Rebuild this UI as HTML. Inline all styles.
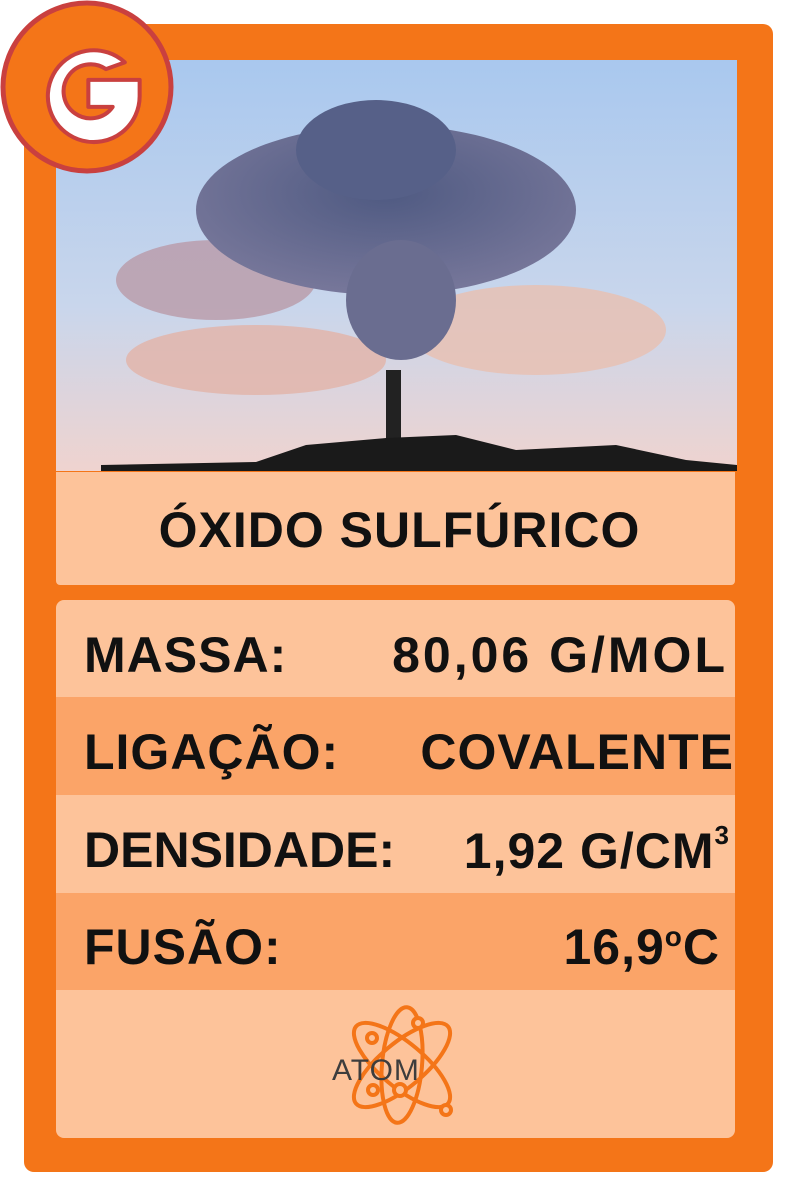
<!DOCTYPE html>
<html><head><meta charset="utf-8"><style>
body{margin:0;width:800px;height:1200px;background:#fff;position:relative;overflow:hidden;font-family:"Liberation Sans",sans-serif}
.abs{position:absolute}
.t{font-weight:bold;color:#111;font-size:50px;line-height:1;letter-spacing:1px}
</style></head><body>
<div class="abs" style="left:24px;top:24px;width:749px;height:1148px;background:#f47518;border-radius:10px"></div>
<svg class="abs" style="left:56px;top:60px" width="681" height="411">
<defs><linearGradient id="sky" x1="0" y1="0" x2="0" y2="1"><stop offset="0" stop-color="#a9c8ee"/><stop offset="0.6" stop-color="#c9d6ec"/><stop offset="1" stop-color="#efd3cf"/></linearGradient>
<radialGradient id="cl" cx="0.5" cy="0.4" r="0.6"><stop offset="0" stop-color="#4f5a82"/><stop offset="1" stop-color="#77779a"/></radialGradient></defs>
<rect width="681" height="411" fill="url(#sky)"/>
<ellipse cx="200" cy="300" rx="130" ry="35" fill="#e2b3a8" opacity="0.8"/>
<ellipse cx="480" cy="270" rx="130" ry="45" fill="#e8bfb0" opacity="0.8"/>
<ellipse cx="160" cy="220" rx="100" ry="40" fill="#b99aa8" opacity="0.8"/>
<ellipse cx="330" cy="150" rx="190" ry="85" fill="url(#cl)"/>
<ellipse cx="320" cy="90" rx="80" ry="50" fill="#566088"/>
<ellipse cx="345" cy="240" rx="55" ry="60" fill="#6a6d90"/>
<rect x="330" y="310" width="15" height="70" fill="#222"/>
<path d="M45 411 L45 405 L200 402 L250 385 L330 378 L400 375 L460 390 L560 385 L630 400 L681 405 L681 411Z" fill="#1a1a1a"/>
</svg>
<svg class="abs" style="left:0;top:0" width="176" height="176">
<circle cx="87" cy="87" r="84" fill="#f47518" stroke="#c9403f" stroke-width="5"/>
<g transform="translate(87 88) scale(1.35) translate(-88 -87)">
<path d="M116 68 A34 34 0 1 0 127 93 L127 81 L89 81 L89 101 L107 101 A20 20 0 1 1 102 73 Z" fill="#fff" stroke="#c9403f" stroke-width="3" stroke-linejoin="round"/>
</g>
</svg>
<div class="abs" style="left:56px;top:472px;width:679px;height:113px;background:#fdc39a;border-radius:0 0 4px 4px"></div>
<div class="abs t" style="left:60px;width:679px;top:505px;text-align:center">ÓXIDO SULFÚRICO</div>
<div class="abs" style="left:56px;top:600px;width:679px;height:538px;background:#fdc39a;border-radius:8px;overflow:hidden">
<div style="position:absolute;top:97px;width:100%;height:98px;background:#fba468"></div>
<div style="position:absolute;top:293px;width:100%;height:97px;background:#fba468"></div>
</div>
<div class="abs t" style="left:84px;top:630px">MASSA:</div>
<div class="abs t" style="right:72px;top:630px;letter-spacing:3px">80,06 G/MOL</div>
<div class="abs t" style="left:84px;top:727px">LIGAÇÃO:</div>
<div class="abs t" style="right:66px;top:727px">COVALENTE</div>
<div class="abs t" style="left:84px;top:825px;letter-spacing:0">DENSIDADE:</div>
<div class="abs t" style="right:70px;top:822px">1,92 G/CM<sup style="font-size:26px;vertical-align:24px">3</sup></div>
<div class="abs t" style="left:84px;top:922px">FUSÃO:</div>
<div class="abs t" style="right:80px;top:922px">16,9<span style="font-size:28px;vertical-align:18px">o</span>C</div>
<svg class="abs" style="left:320px;top:1000px" width="160" height="130">
<g fill="none" stroke="#f47518" stroke-width="4">
<ellipse cx="82" cy="65" rx="60" ry="22" transform="rotate(-40 82 65)"/>
<ellipse cx="82" cy="65" rx="60" ry="22" transform="rotate(40 82 65)"/>
<ellipse cx="82" cy="65" rx="58" ry="20" transform="rotate(95 82 65)"/>
<circle cx="52" cy="38" r="5" fill="#fdc39a"/><circle cx="98" cy="23" r="5" fill="#fdc39a"/>
<circle cx="53" cy="90" r="5" fill="#fdc39a"/><circle cx="80" cy="90" r="6" fill="#fdc39a"/><circle cx="126" cy="110" r="5" fill="#fdc39a"/>
</g>
<text x="12" y="80" font-family="Liberation Sans,sans-serif" font-size="30" fill="#3d3d3d" letter-spacing="1">ATOM</text>
</svg>
</body></html>
